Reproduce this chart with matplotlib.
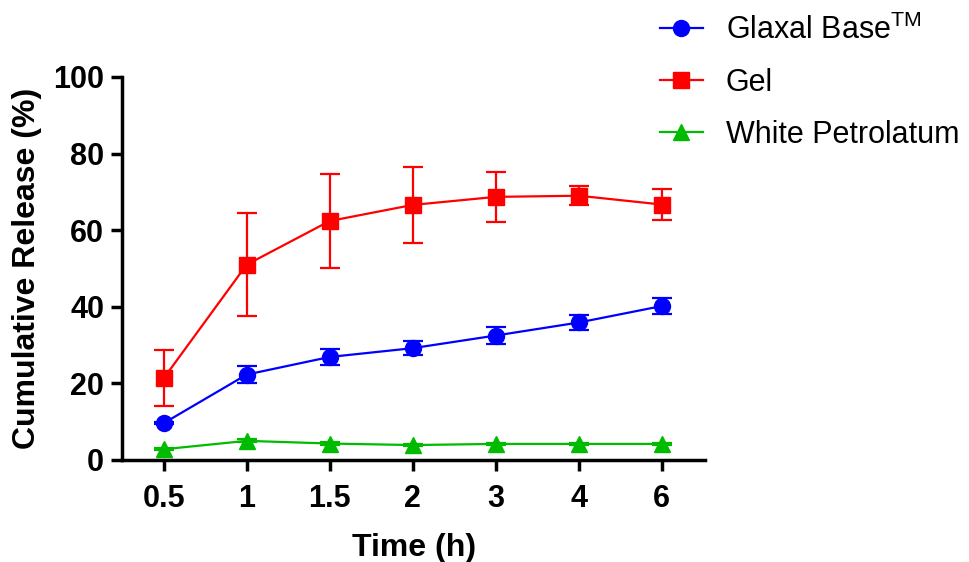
import matplotlib
matplotlib.use("Agg")
import matplotlib.pyplot as plt
from matplotlib.lines import Line2D
import numpy as np

plt.rcParams['font.family'] = ['Liberation Sans', 'DejaVu Sans']
plt.rcParams['mathtext.fontset'] = 'custom'
plt.rcParams['mathtext.rm'] = 'Liberation Sans'

time_labels = ["0.5", "1", "1.5", "2", "3", "4", "6"]
glaxal = [9.6, 22.3, 26.9, 29.2, 32.5, 35.9, 40.2]
glaxal_err = [0.3, 2.3, 2.2, 1.9, 2.3, 2.0, 2.2]
gel = [21.3, 51.0, 62.4, 66.6, 68.7, 69.0, 66.7]
gel_err = [7.3, 13.5, 12.4, 10.0, 6.5, 2.5, 4.1]
petro = [2.8, 5.0, 4.3, 3.9, 4.2, 4.2, 4.2]
petro_err = [0.3, 0.4, 0.3, 0.3, 0.3, 0.3, 0.3]

fig = plt.figure(figsize=(9.69, 5.62), dpi=100)
ax = fig.add_axes([0.126, 0.1815, 0.6016, 0.6815])

x = np.arange(len(time_labels))
series = [
    (glaxal, glaxal_err, '#0000FF', 'o', r'Glaxal Base$^{\mathrm{TM}}$'),
    (gel, gel_err, '#FF0000', 's', 'Gel'),
    (petro, petro_err, '#00BB00', '^', 'White Petrolatum'),
]
handles = []
for vals, err, col, mk, lab in series:
    ax.errorbar(x, vals, yerr=err, color=col, marker=mk, markersize=11.5,
                linewidth=1.6, elinewidth=1.6, capsize=7, capthick=1.6,
                clip_on=False)
    handles.append(Line2D([], [], color=col, marker=mk, markersize=11.5,
                          linewidth=1.6, label=lab))

ax.set_xlim(-0.5, 6.52)
ax.set_ylim(0, 100)
ax.set_xticks(x)
ax.set_xticklabels(time_labels)
ax.set_yticks([0, 20, 40, 60, 80, 100])
for s in ['top', 'right']:
    ax.spines[s].set_visible(False)
for s in ['left', 'bottom']:
    ax.spines[s].set_linewidth(2.5)
ax.tick_params(axis='both', width=2.5, length=8, labelsize=22, pad=5)
ax.tick_params(axis='x', pad=9)
for t in ax.get_xticklabels() + ax.get_yticklabels():
    t.set_fontweight('bold')
ax.set_xlabel('Time (h)', fontsize=23, fontweight='bold', labelpad=14)
ax.set_ylabel('Cumulative Release (%)', fontsize=23, fontweight='bold', labelpad=8)

leg = fig.legend(handles=handles, loc='upper left', bbox_to_anchor=(0.681, 0.974),
                 frameon=False, fontsize=22, handlelength=1.4, labelspacing=0.72,
                 handletextpad=0.75, borderpad=0, borderaxespad=0)

fig.savefig('out.png', dpi=100)
